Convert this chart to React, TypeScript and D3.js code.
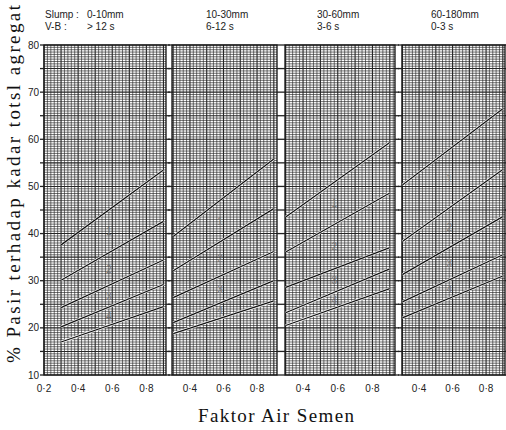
import React from 'react';
import * as d3 from 'd3';

// header of each panel
const slumpLabels = ['0-10mm', '10-30mm', '30-60mm', '60-180mm'];
const vbLabels = ['> 12 s', '6-12 s', '3-6 s', '0-3 s'];

// free water / cement ratio at the ends of each line
const lineWc = [0.3, 0.9];

// % fine aggregate, 5 lines per panel (top to bottom), [at 0.3, at 0.9]
const panel1 = [[37.6, 53.5], [30.1, 42.6], [24.3, 34.4], [20.2, 29.2], [17.0, 24.5]];
const panel2 = [[39.4, 55.8], [32.1, 45.3], [26.4, 36.2], [21.1, 30.0], [18.8, 25.7]];
const panel3 = [[43.5, 59.3], [36.1, 48.6], [28.6, 37.0], [23.2, 32.5], [20.5, 28.3]];
const panel4 = [[50.3, 66.5], [38.3, 53.6], [31.3, 43.6], [25.5, 35.5], [22.1, 31.0]];
const panelLines = [panel1, panel2, panel3, panel4];

const zoneLabels = ['1', '2', '3', '4'];
const xTicks = [[0.2, 0.4, 0.6, 0.8], [0.4, 0.6, 0.8], [0.4, 0.6, 0.8], [0.4, 0.6, 0.8]];
const yTicks = [10, 20, 30, 40, 50, 60, 70, 80];

// panel pixel extents and their w/c domains
const panels = [
  { x0: 44, x1: 166, lo: 0.2, hi: 0.915, head: 87 },
  { x0: 172, x1: 277, lo: 0.293, hi: 0.919, head: 206 },
  { x0: 285, x1: 395, lo: 0.296, hi: 0.93, head: 317 },
  { x0: 402, x1: 505, lo: 0.298, hi: 0.913, head: 431 },
];

const W = 506;
const H = 430;
const sans = 'Liberation Sans, Arial, sans-serif';
const serif = 'Liberation Serif, Times New Roman, serif';

const yScale = d3.scaleLinear().domain([10, 80]).range([375, 45]);
const fmt = (v: number) => d3.format('.1f')(v).replace('.', '·');

const Panel = ({ p, i }: { p: typeof panels[0]; i: number }) => {
  const x = d3.scaleLinear().domain([p.lo, p.hi]).range([p.x0, p.x1]);
  const hLines = d3.range(10, 80.001, 0.5);
  const vLines = d3.range(Math.ceil(p.lo * 50) / 50, p.hi + 1e-6, 0.02);
  const line = d3.line<number>().x((_, k) => x(lineWc[k])).y(d => yScale(d));
  const lines = panelLines[i];
  const labX = 0.58;
  const at = (l: number[]) => l[0] + (l[1] - l[0]) * (labX - lineWc[0]) / (lineWc[1] - lineWc[0]);
  const clipId = `clip${i}`;
  return (
    <g>
      <clipPath id={clipId}>
        <rect x={p.x0} y={yScale(80)} width={p.x1 - p.x0} height={yScale(10) - yScale(80)} />
      </clipPath>
      <rect x={p.x0} y={yScale(80)} width={p.x1 - p.x0} height={yScale(10) - yScale(80)} fill="#fff" />
      {hLines.map(v => (
        <line key={'h' + v} x1={p.x0} x2={p.x1} y1={yScale(v)} y2={yScale(v)}
          stroke="#262626" strokeWidth={v % 5 === 0 ? 1.1 : 0.65} />
      ))}
      {vLines.map(v => {
        const major = Math.abs(v * 10 - Math.round(v * 10)) < 1e-6;
        return (
          <line key={'v' + v} x1={x(v)} x2={x(v)} y1={yScale(80)} y2={yScale(10)}
            stroke="#262626" strokeWidth={major ? 1.1 : 0.65} />
        );
      })}
      <rect x={p.x0} y={yScale(80)} width={p.x1 - p.x0} height={yScale(10) - yScale(80)}
        fill="none" stroke="#111" strokeWidth={1.3} />
      {d3.range(10, 80.001, 5).map(v => (
        <g key={'t' + v}>
          <line x1={p.x0 - 4} x2={p.x0} y1={yScale(v)} y2={yScale(v)} stroke="#222" strokeWidth={1.3} />
          <line x1={p.x1} x2={p.x1 + 4} y1={yScale(v)} y2={yScale(v)} stroke="#222" strokeWidth={1.3} />
        </g>
      ))}
      <g clipPath={`url(#${clipId})`}>
        {lines.map((l, k) => (
          <path key={'w' + k} d={line(l) || ''} fill="none" stroke="#fff" strokeWidth={2.4} />
        ))}
        {lines.map((l, k) => (
          <path key={'l' + k} d={line(l) || ''} fill="none" stroke="#111" strokeWidth={1.3} />
        ))}
      </g>
      {zoneLabels.map((z, k) => (
        <text key={'z' + k} x={x(labX)} y={yScale((at(lines[k]) + at(lines[k + 1])) / 2)}
          dy="0.35em" textAnchor="middle" fontFamily={sans} fontSize={10} fill="#777">{z}</text>
      ))}
      {xTicks[i].map(t => (
        <text key={'x' + t} x={x(t)} y={392} textAnchor="middle" fontFamily={sans}
          fontSize={10} fill="#222">{fmt(t)}</text>
      ))}
      <text x={p.head} y={18} fontFamily={sans} fontSize={10} fill="#222">{slumpLabels[i]}</text>
      <text x={p.head} y={30} fontFamily={sans} fontSize={10} fill="#222">{vbLabels[i]}</text>
    </g>
  );
};

export default function App() {
  return (
    <svg width={W} height={H} style={{ position: 'absolute', left: 0, top: 0, background: '#fff' }}>
      <rect width={W} height={H} fill="#fff" />
      <text x={45} y={18} fontFamily={sans} fontSize={10} fill="#222">Slump :</text>
      <text x={45} y={30} fontFamily={sans} fontSize={10} fill="#222">V-B :</text>
      {yTicks.map(t => (
        <text key={t} x={39} y={yScale(t)} dy="0.35em" textAnchor="end" fontFamily={sans}
          fontSize={10} fill="#222">{t}</text>
      ))}
      {panels.map((p, i) => <Panel key={i} p={p} i={i} />)}
      <text transform="translate(20,184) rotate(-90)" textAnchor="middle" fontFamily={serif}
        fontSize={19} textLength={358} lengthAdjust="spacing" fill="#111">
        % Pasir terhadap kadar totsl agregat
      </text>
      <text x={276} y={422} textAnchor="middle" fontFamily={serif} fontSize={19}
        textLength={156} lengthAdjust="spacing" fill="#111">Faktor Air Semen</text>
    </svg>
  );
}
